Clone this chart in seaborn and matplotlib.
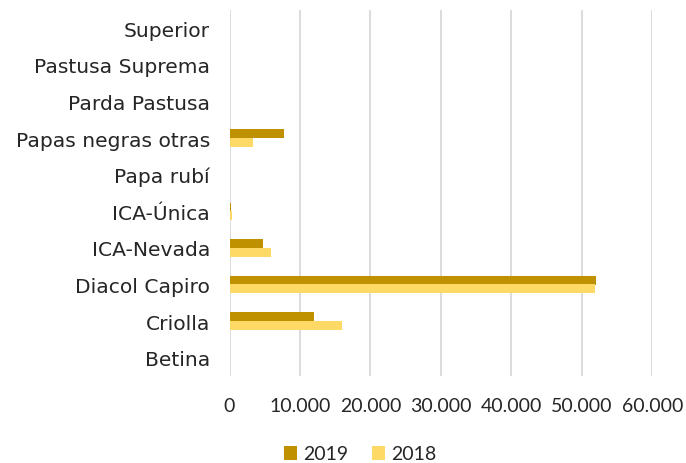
import matplotlib
matplotlib.use("Agg")
import matplotlib.pyplot as plt
import matplotlib.ticker as mticker
from matplotlib.patches import Patch
import seaborn as sns
import pandas as pd

categories = ["Superior", "Pastusa Suprema", "Parda Pastusa", "Papas negras otras",
              "Papa rubí", "ICA-Única", "ICA-Nevada", "Diacol Capiro", "Criolla", "Betina"]
values_2019 = [0, 0, 0, 7700, 0, 250, 4750, 52000, 12000, 0]
values_2018 = [0, 0, 0, 3350, 0, 380, 5950, 51850, 15900, 0]
series = ["2019", "2018"]
colors = {"2019": "#BF9000", "2018": "#FFD966"}
xticks = [0, 10000, 20000, 30000, 40000, 50000, 60000]

df = pd.DataFrame({
    "Variedad": categories * 2,
    "Valor": values_2019 + values_2018,
    "Año": ["2019"] * len(categories) + ["2018"] * len(categories),
})

sns.set_theme(style="white")
plt.rcParams["font.family"] = ["Lato", "DejaVu Sans"]

fig = plt.figure(figsize=(6.86, 4.64), dpi=100)
ax = fig.add_axes([229.5 / 686, 1 - 377 / 464, (652.3 - 229.5) / 686, (377 - 11) / 464])

sns.barplot(data=df, y="Variedad", x="Valor", hue="Año", order=categories,
            hue_order=series, palette=colors, orient="h", width=0.47,
            ax=ax, legend=False, saturation=1, edgecolor="none")

ax.set_xlim(0, 60000)
ax.set_ylim(len(categories) - 0.5, -0.5)
ax.set_xticks(xticks)
ax.xaxis.set_major_formatter(mticker.FuncFormatter(lambda v, p: f"{int(v):,}".replace(",", ".")))
ax.grid(axis="x", color="#D9D9D9", linewidth=1.3)
ax.set_axisbelow(True)
for s in ax.spines.values():
    s.set_visible(False)
ax.set_xlabel("")
ax.set_ylabel("")
ax.tick_params(axis="y", length=0, pad=14, labelsize=14.6, labelcolor="#262626")
ax.tick_params(axis="x", length=0, pad=15, labelsize=14, labelcolor="#262626")
for lab in ax.get_yticklabels():
    lab.set_fontfamily(["DejaVu Sans"])

handles = [Patch(facecolor=colors[s], edgecolor="none", label=s) for s in series]
fig.legend(handles=handles, loc="center", bbox_to_anchor=(360 / 686, 1 - 455 / 464),
           ncol=2, frameon=False, fontsize=14, handlelength=0.7, handleheight=0.7,
           handletextpad=0.3, columnspacing=1.2, labelcolor="#262626")

fig.savefig("out.png", dpi=100)
